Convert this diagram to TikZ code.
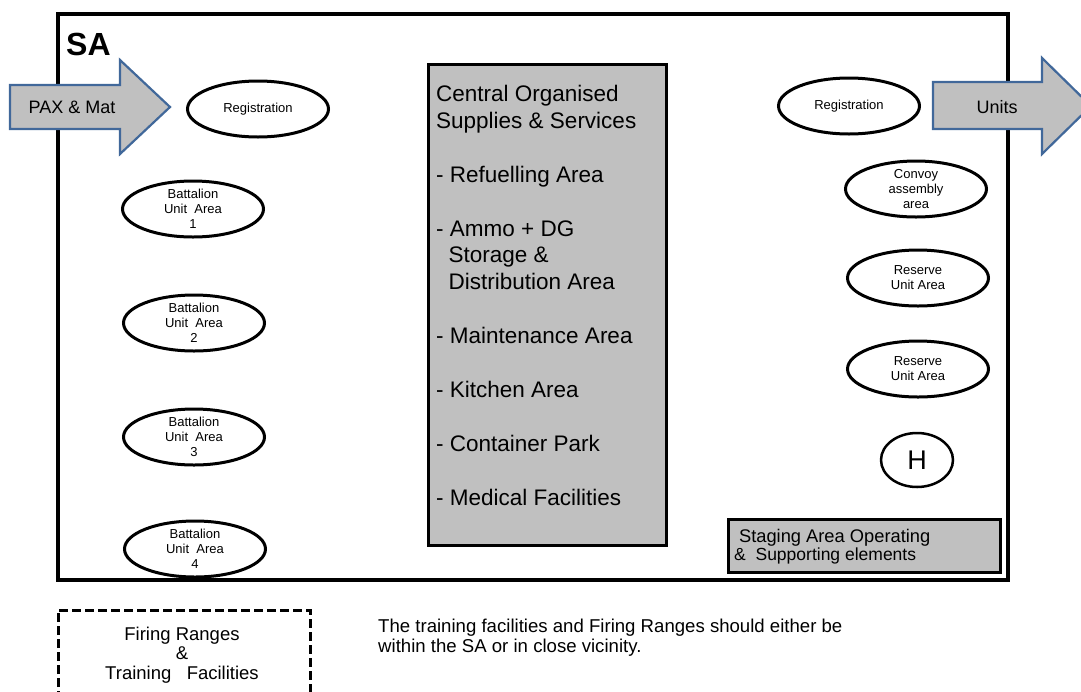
\documentclass[tikz,border=0pt]{standalone}
\usepackage{fontspec}
\setmainfont{Liberation Sans}
\usetikzlibrary{shapes.geometric}
\definecolor{boxgray}{HTML}{C0C0C0}
\definecolor{arrowblue}{HTML}{41689A}
\tikzset{
  area/.style={ellipse, draw=black, line width=3pt, fill=white, inner sep=0pt,
    minimum width=141pt, minimum height=56pt, align=center,
    font=\fontsize{13}{15}\selectfont},
  bigarrow/.style={draw=arrowblue, line width=2.2pt, fill=boxgray, line join=miter},
  graybox/.style={draw=black, line width=3pt, fill=boxgray},
}
\begin{document}
\begin{tikzpicture}[x=1pt,y=-1pt]
\useasboundingbox (0,0) rectangle (1081,691);
\fill[white] (0,0) rectangle (1081,691);
% main SA frame
\draw[line width=3.5pt] (58,14) rectangle (1008,580);
\node[anchor=base west, font=\fontsize{32}{32}\selectfont\bfseries, inner sep=0pt] (sa) at (66,55) {SA};

% central box
\draw[graybox] (428,64) rectangle (666,545);
\node[anchor=north west, inner sep=0pt, align=left, font=\fontsize{22.5}{26.9}\selectfont] (central) at (436,85)
 {Central Organised\\ Supplies \& Services\\[26.9pt]
  - Refuelling Area\\[26.9pt]
  - Ammo + DG\\ \ \ Storage \&\\ \ \ Distribution Area\\[26.9pt]
  - Maintenance Area\\[26.9pt]
  - Kitchen Area\\[26.9pt]
  - Container Park\\[26.9pt]
  - Medical Facilities};

% left arrow
\draw[bigarrow] (10,85) -- (120,85) -- (120,60) -- (170,107) -- (120,154) -- (120,129) -- (10,129) -- cycle;
\node[font=\fontsize{18}{18}\selectfont, inner sep=0pt] (pax) at (72,107) {PAX \& Mat};

% right arrow
\draw[bigarrow] (933,82) -- (1042,82) -- (1042,58) -- (1091,106) -- (1042,154) -- (1042,129) -- (933,129) -- cycle;
\node[font=\fontsize{18}{18}\selectfont, inner sep=0pt] (units) at (997,107) {Units};

% left ellipses
\node[area] (regl) at (258,109) {Registration};
\node[area] (b1) at (193,209) {Battalion\\Unit\ \ Area\\1};
\node[area] (b2) at (194,323) {Battalion\\Unit\ \ Area\\2};
\node[area] (b3) at (194,437) {Battalion\\Unit\ \ Area\\3};
\node[area] (b4) at (195,549) {Battalion\\Unit\ \ Area\\4};

% right ellipses
\node[area] (regr) at (849,106) {Registration};
\node[area] (convoy) at (916,189) {Convoy\\assembly\\area};
\node[area] (res1) at (918,278) {Reserve\\Unit Area};
\node[area] (res2) at (918,369) {Reserve\\Unit Area};
\node[ellipse, draw, line width=2.5pt, minimum width=72pt, minimum height=54pt, inner sep=0pt,
  font=\fontsize{27}{27}\selectfont] (heli) at (917,460) {H};

% staging box
\draw[graybox] (728,519) rectangle (1000,572);
\node[anchor=north west, inner sep=0pt, align=left, font=\fontsize{17.5}{18}\selectfont] (staging) at (734,529)
 {\ {\fontsize{18.3}{18}\selectfont Staging Area Operating}\\\& \ Supporting elements};

% firing ranges
\draw[line width=3pt, dash pattern=on 9pt off 4pt] (58,700) -- (58,610) -- (310,610) -- (310,700);
\node[align=center, inner sep=0pt, font=\fontsize{18.5}{19.5}\selectfont] (firing) at (182,655)
 {Firing Ranges\\\&\\Training\ \ \ Facilities};

% note
\node[anchor=north west, align=left, inner sep=0pt, font=\fontsize{18.6}{20}\selectfont] (note) at (378,619)
 {The training facilities and Firing Ranges should either be\\within the SA or in close vicinity.};
\end{tikzpicture}
\end{document}
